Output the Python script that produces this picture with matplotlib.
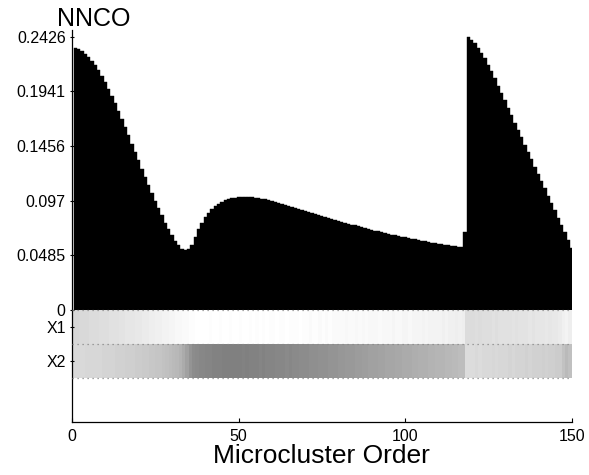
import numpy as np
import matplotlib
matplotlib.use("Agg")
import matplotlib.pyplot as plt

plt.rcParams["font.family"] = ["Liberation Sans", "DejaVu Sans"]

# NNCO value per microcluster (order 1..150)
nnco = [
    0.2325, 0.2315, 0.2299, 0.2276, 0.2248, 0.2213, 0.2173, 0.2128, 0.2078, 0.2024,
    0.1965, 0.1902, 0.1837, 0.1769, 0.1698, 0.1626, 0.1553, 0.1478, 0.1404, 0.1329,
    0.1255, 0.1181, 0.1109, 0.1039, 0.0970, 0.0902, 0.0838, 0.0775, 0.0716, 0.0662,
    0.0612, 0.0572, 0.0540, 0.0529, 0.0538, 0.0575, 0.0645, 0.0715, 0.0775, 0.0825,
    0.0862, 0.0892, 0.0918, 0.0940, 0.0957, 0.0971, 0.0982, 0.0991, 0.0997, 0.1001,
    0.1003, 0.1004, 0.1003, 0.1001, 0.0997, 0.0993, 0.0988, 0.0982, 0.0975, 0.0967,
    0.0958, 0.0949, 0.0940, 0.0931, 0.0922, 0.0913, 0.0904, 0.0895, 0.0886, 0.0877,
    0.0868, 0.0859, 0.0850, 0.0841, 0.0832, 0.0823, 0.0814, 0.0805, 0.0797, 0.0789,
    0.0781, 0.0773, 0.0765, 0.0757, 0.0749, 0.0741, 0.0733, 0.0725, 0.0717, 0.0710,
    0.0703, 0.0696, 0.0689, 0.0682, 0.0675, 0.0668, 0.0661, 0.0655, 0.0649, 0.0643,
    0.0637, 0.0631, 0.0625, 0.0619, 0.0613, 0.0607, 0.0602, 0.0597, 0.0592, 0.0587,
    0.0582, 0.0577, 0.0572, 0.0568, 0.0564, 0.0561, 0.0559, 0.0690, 0.2426, 0.2401,
    0.2369, 0.2330, 0.2285, 0.2235, 0.2180, 0.2121, 0.2059, 0.1994, 0.1928, 0.1862,
    0.1796, 0.1730, 0.1664, 0.1598, 0.1533, 0.1468, 0.1403, 0.1338, 0.1273, 0.1208,
    0.1143, 0.1078, 0.1013, 0.0948, 0.0883, 0.0818, 0.0753, 0.0688, 0.0623, 0.0550,
]

# attribute strips (gray level, 0 = black, 1 = white)
x1_level = [
    .84, .84, .85, .85, .85, .86, .86, .86, .87, .87,
    .87, .88, .88, .88, .89, .89, .90, .90, .90, .91,
    .91, .92, .92, .93, .93, .94, .94, .95, .95, .96,
    .96, .97, .97, .98, .98, .99, .99, 1.0, 1.0, 1.0,
    1.0, .99, 1.0, 1.0, .99, 1.0, 1.0, .99, 1.0, 1.0,
    .99, 1.0, 1.0, .99, 1.0, .99, 1.0, .99, 1.0, .99,
    .99, 1.0, .99, .99, 1.0, .99, .99, .99, 1.0, .99,
    .99, .98, .99, .99, .98, .99, .98, .99, .98, .98,
    .98, .98, .97, .98, .98, .97, .98, .97, .98, .97,
    .97, .97, .98, .97, .97, .97, .96, .97, .97, .96,
    .96, .97, .96, .96, .96, .95, .96, .95, .95, .95,
    .95, .94, .95, .94, .94, .93, .94, .93, .86, .86,
    .86, .87, .86, .87, .87, .87, .88, .87, .88, .88,
    .88, .88, .89, .88, .89, .89, .89, .90, .89, .90,
    .90, .90, .91, .90, .91, .91, .92, .94, .95, .93,
]
x2_level = [
    .85, .85, .85, .85, .84, .84, .84, .84, .84, .83,
    .83, .83, .83, .82, .82, .82, .81, .81, .81, .80,
    .80, .79, .79, .78, .78, .77, .77, .76, .75, .74,
    .73, .72, .70, .67, .63, .58, .55, .54, .53, .53,
    .52, .52, .51, .51, .51, .50, .50, .50, .50, .50,
    .50, .51, .50, .51, .51, .51, .52, .51, .52, .52,
    .52, .53, .53, .53, .54, .53, .54, .54, .55, .55,
    .55, .56, .56, .56, .57, .57, .57, .58, .58, .58,
    .59, .59, .60, .60, .60, .61, .61, .62, .62, .63,
    .63, .63, .64, .64, .65, .65, .65, .66, .66, .67,
    .67, .67, .68, .68, .69, .69, .69, .70, .70, .71,
    .71, .71, .72, .72, .73, .73, .74, .74, .86, .86,
    .86, .85, .86, .85, .85, .85, .84, .85, .84, .84,
    .84, .83, .84, .83, .83, .83, .82, .83, .82, .82,
    .82, .81, .82, .81, .81, .80, .80, .76, .73, .75,
]
strip_names = ["X1", "X2"]
y_ticks = [0, 0.0485, 0.097, 0.1456, 0.1941, 0.2426]
y_ticklabels = ["0", "0.0485", "0.097", "0.1456", "0.1941", "0.2426"]
x_ticks = [0, 50, 100, 150]

order = np.arange(1, len(nnco) + 1)
strip_h = 0.0303

fig = plt.figure(figsize=(5.89, 4.75), dpi=100)
ax = fig.add_axes([0.1222, 0.1116, 0.8484, 0.8252])

ax.bar(order, nnco, width=1.0, color="black", edgecolor="black", linewidth=0.3)

# strips under the bars
xedges = np.arange(0, len(nnco) + 1)
for k, row in enumerate([x1_level, x2_level]):
    top = -k * strip_h
    ax.pcolormesh(xedges, [top - strip_h, top], np.array(row)[None, :],
                  cmap="gray", vmin=0, vmax=1, shading="flat")
for k in range(3):
    ax.axhline(-k * strip_h, color="#888888", lw=0.9, ls=(0, (1, 3)), zorder=3)

ax.set_xlim(0, 150)
ax.set_ylim(-0.1, 0.2488)
ax.set_yticks(y_ticks + [-0.5 * strip_h, -1.5 * strip_h])
ax.set_yticklabels(y_ticklabels + strip_names)
ax.set_xticks(x_ticks)
ax.tick_params(axis="both", labelsize=11.5, length=3, width=0.8)
ax.tick_params(axis="y", direction="inout", pad=3)
ax.tick_params(axis="x", direction="in", pad=5)
for s in ["top", "right"]:
    ax.spines[s].set_visible(False)
for s in ["left", "bottom"]:
    ax.spines[s].set_linewidth(0.9)

ax.set_xlabel("Microcluster Order", fontsize=19, labelpad=0)
fig.text(94 / 589, 1 - 19 / 475, "NNCO", fontsize=18, ha="center", va="center")

fig.savefig("out.png", dpi=100)
